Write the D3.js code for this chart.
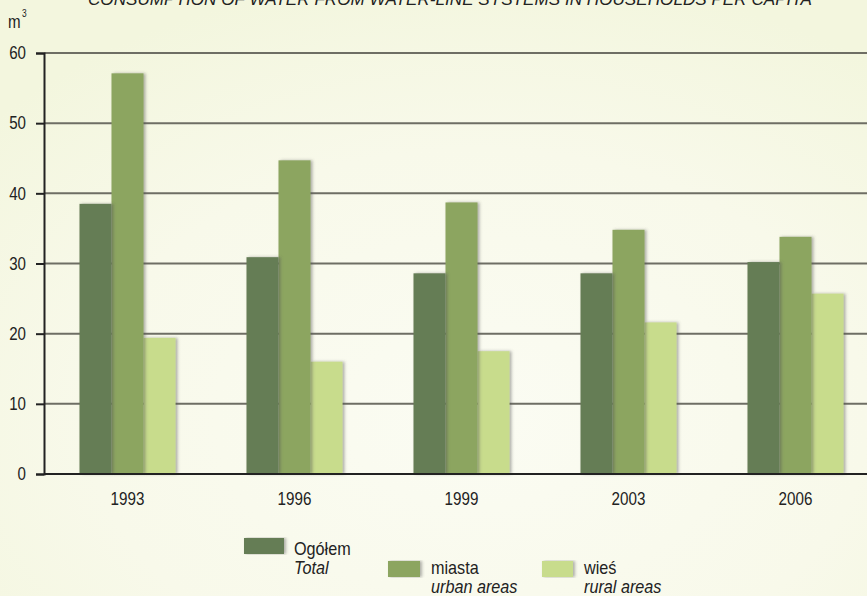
<!DOCTYPE html>
<html>
<head>
<meta charset="utf-8">
<script src="https://cdn.jsdelivr.net/npm/d3@7"></script>
<style>
  html, body { margin: 0; padding: 0; background: #f5f7e3; }
  svg { display: block; }
  text { font-family: "Liberation Sans Narrow", "Arial Narrow", "Liberation Sans", sans-serif; fill: #222; }
</style>
</head>
<body>
<script>
const width = 867;
const height = 596;

const years = ["1993", "1996", "1999", "2003", "2006"];
const total = [38.5, 30.9, 28.6, 28.6, 30.2];
const urban = [57.1, 44.7, 38.7, 34.8, 33.8];
const rural = [19.4, 16.0, 17.5, 21.6, 25.7];
const seriesKeys = ["total", "urban", "rural"];
const seriesPl = ["Ogółem", "miasta", "wieś"];
const seriesEn = ["Total", "urban areas", "rural areas"];
const yTicks = [0, 10, 20, 30, 40, 50, 60];
const title = "CONSUMPTION OF WATER FROM WATER-LINE SYSTEMS IN HOUSEHOLDS PER CAPITA";

const colors = d3.scaleOrdinal().domain(seriesKeys).range(["#657d55", "#8ca560", "#c8dc8c"]);

const rows = years.map((y, i) => ({ year: y, total: total[i], urban: urban[i], rural: rural[i] }));

// no narrow font installed, so squeeze text horizontally
const narrow = 0.84;

const svg = d3.select("body").append("svg")
  .attr("width", width)
  .attr("height", height);

const defs = svg.append("defs");
const bg = defs.append("radialGradient")
  .attr("id", "bg")
  .attr("cx", "0.55").attr("cy", "0.7").attr("r", "0.75");
bg.append("stop").attr("offset", "0").attr("stop-color", "#fbfcf3");
bg.append("stop").attr("offset", "0.6").attr("stop-color", "#f8f9ea");
bg.append("stop").attr("offset", "1").attr("stop-color", "#f3f6de");

const shadow = defs.append("filter").attr("id", "shadow")
  .attr("x", "-20%").attr("y", "-5%").attr("width", "150%").attr("height", "110%");
shadow.append("feDropShadow")
  .attr("dx", 2).attr("dy", 0).attr("stdDeviation", 1.5)
  .attr("flood-color", "#555").attr("flood-opacity", 0.45);

svg.append("rect").attr("width", width).attr("height", height).attr("fill", "url(#bg)");

const margin = { left: 44, top: 53, bottom: 474 };

const x = d3.scaleBand()
  .domain(years)
  .range([margin.left, margin.left + 835])
  .paddingInner(0.425)
  .paddingOuter(0.2125);

const xs = d3.scaleBand()
  .domain(seriesKeys)
  .range([0, x.bandwidth()]);

const y = d3.scaleLinear()
  .domain([0, 60])
  .range([margin.bottom, margin.top]);

// title (cut off at the top edge, as in the source)
svg.append("text")
  .attr("x", 88)
  .attr("y", 5)
  .attr("font-style", "italic")
  .attr("font-size", 17)
  .attr("textLength", 724)
  .attr("lengthAdjust", "spacingAndGlyphs")
  .text(title);

// unit
svg.append("text")
  .attr("transform", `translate(8,28) scale(${narrow},1)`)
  .attr("font-size", 18)
  .text("m");
svg.append("text")
  .attr("transform", `translate(22,17) scale(${narrow},1)`)
  .attr("font-size", 10)
  .text("3");

// gridlines
svg.append("g")
  .selectAll("line")
  .data(yTicks.filter(d => d > 0))
  .join("line")
  .attr("x1", margin.left)
  .attr("x2", width)
  .attr("y1", d => y(d))
  .attr("y2", d => y(d))
  .attr("stroke", "#6e6e64")
  .attr("stroke-width", 2);

// bars
const groups = svg.append("g")
  .selectAll("g")
  .data(rows)
  .join("g")
  .attr("transform", d => `translate(${x(d.year)},0)`);

groups.selectAll("rect")
  .data(d => seriesKeys.map(k => ({ key: k, value: d[k] })).reverse())
  .join("rect")
  .attr("x", d => xs(d.key))
  .attr("y", d => y(d.value))
  .attr("width", xs.bandwidth())
  .attr("height", d => y(0) - y(d.value))
  .attr("fill", d => colors(d.key))
  .attr("filter", "url(#shadow)");

// y axis
const yAxis = svg.append("g")
  .attr("transform", `translate(${margin.left},0)`)
  .call(d3.axisLeft(y).tickValues(yTicks).tickSize(8).tickPadding(10));
yAxis.select(".domain").attr("stroke", "#222").attr("stroke-width", 2);
yAxis.selectAll(".tick line").attr("stroke", "#222").attr("stroke-width", 2);
yAxis.selectAll(".tick text")
  .attr("font-size", 18)
  .attr("fill", "#222")
  .attr("x", -18 / narrow)
  .attr("transform", `scale(${narrow},1)`)
  .style("font-family", "'Liberation Sans Narrow', 'Arial Narrow', sans-serif");

// x axis
const xAxis = svg.append("g")
  .attr("transform", `translate(0,${margin.bottom})`)
  .call(d3.axisBottom(x).tickSize(0).tickPadding(18));
xAxis.select(".domain").attr("d", `M${margin.left},0H${width}`).attr("stroke", "#222").attr("stroke-width", 2);
xAxis.selectAll(".tick text")
  .attr("font-size", 19)
  .attr("fill", "#222")
  .attr("transform", `scale(0.8,1)`)
  .style("font-family", "'Liberation Sans Narrow', 'Arial Narrow', sans-serif");

// legend
const legendPos = [
  { sx: 244, sy: 538, sw: 40, tx: 294, ty: 555 },
  { sx: 388, sy: 561, sw: 32, tx: 431, ty: 574 },
  { sx: 542, sy: 561, sw: 31, tx: 584, ty: 574 }
];

const legend = svg.append("g")
  .selectAll("g")
  .data(seriesKeys)
  .join("g");

legend.append("rect")
  .attr("x", (d, i) => legendPos[i].sx)
  .attr("y", (d, i) => legendPos[i].sy)
  .attr("width", (d, i) => legendPos[i].sw)
  .attr("height", 16)
  .attr("fill", d => colors(d))
  .attr("filter", "url(#shadow)");

legend.append("text")
  .attr("transform", (d, i) => `translate(${legendPos[i].tx},${legendPos[i].ty}) scale(0.9,1)`)
  .attr("font-size", 18)
  .text((d, i) => seriesPl[i]);

legend.append("text")
  .attr("transform", (d, i) => `translate(${legendPos[i].tx},${legendPos[i].ty + 19}) scale(0.9,1)`)
  .attr("font-size", 18)
  .attr("font-style", "italic")
  .text((d, i) => seriesEn[i]);
</script>
</body>
</html>
